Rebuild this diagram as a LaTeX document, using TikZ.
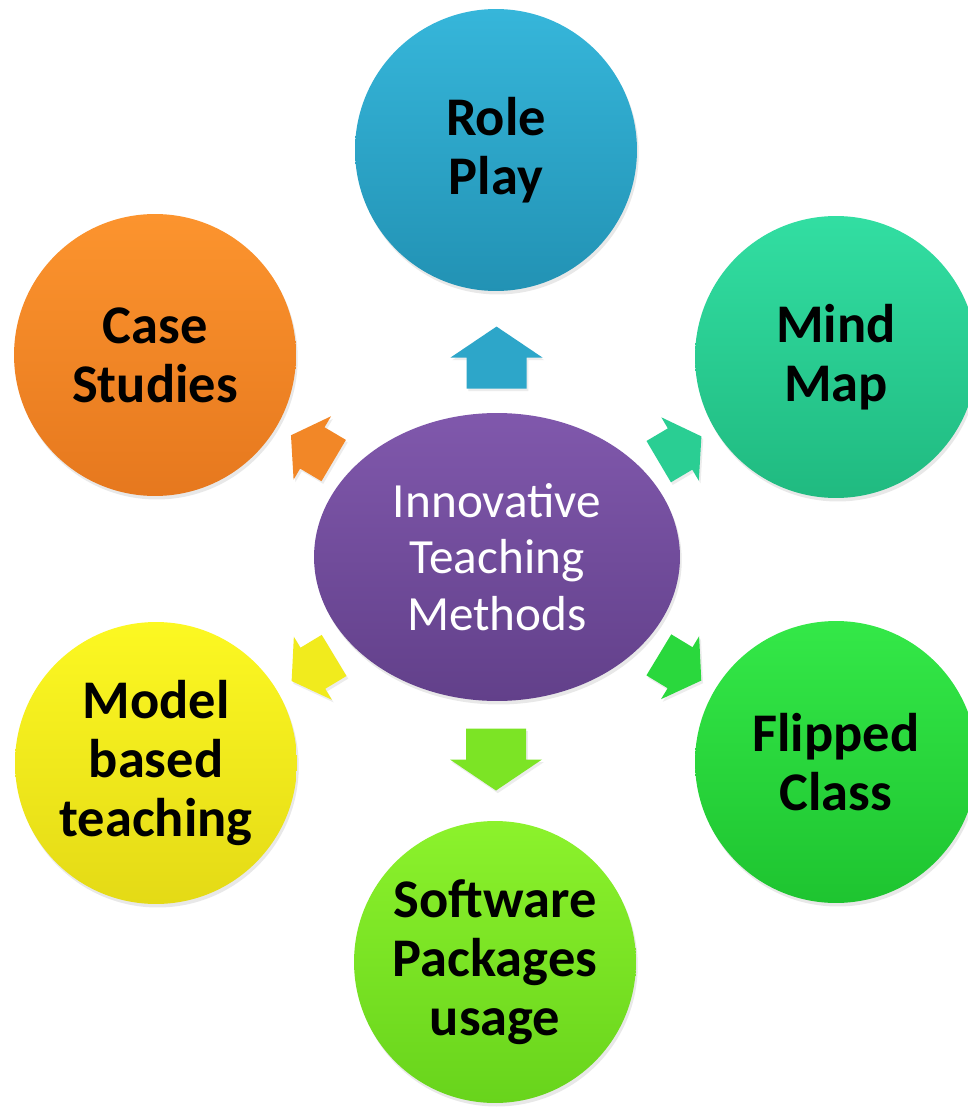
\documentclass[tikz,border=0pt]{standalone}
\usepackage{fontspec}
\setmainfont{Carlito}
\usetikzlibrary{positioning,calc,shapes.geometric,shadows}

\definecolor{roleTop}{RGB}{54,182,218}
\definecolor{roleBot}{RGB}{34,146,180}
\definecolor{mindTop}{RGB}{50,222,162}
\definecolor{mindBot}{RGB}{32,186,128}
\definecolor{flipTop}{RGB}{52,232,72}
\definecolor{flipBot}{RGB}{30,196,48}
\definecolor{softTop}{RGB}{140,242,44}
\definecolor{softBot}{RGB}{104,212,28}
\definecolor{modelTop}{RGB}{252,248,34}
\definecolor{modelBot}{RGB}{228,218,22}
\definecolor{caseTop}{RGB}{252,148,46}
\definecolor{caseBot}{RGB}{230,120,30}
\definecolor{hubTop}{RGB}{128,88,172}
\definecolor{hubBot}{RGB}{98,64,138}

\tikzset{
  bubble/.style={circle,minimum size=5.64cm,inner sep=0pt,align=center,
    font=\bfseries\fontsize{31}{33.5}\selectfont,text=black,
    drop shadow={opacity=0.18,shadow xshift=1pt,shadow yshift=-2pt}},
  hub/.style={ellipse,minimum width=7.32cm,minimum height=5.76cm,inner sep=0pt,
    align=center,font=\fontsize{28}{32}\selectfont,text=white,
    top color=hubTop,bottom color=hubBot,
    drop shadow={opacity=0.18,shadow xshift=1pt,shadow yshift=-2pt}},
  pics/blockarrow/.style={code={
    \fill[#1,drop shadow={opacity=0.15,shadow xshift=1pt,shadow yshift=-1.5pt}]
      (31,0) -- (0,46) -- (0,30) -- (-31,30) -- (-31,-30) -- (0,-30) -- (0,-46) -- cycle;
  }}
}

\begin{document}
\begin{tikzpicture}[x=0.02cm,y=-0.02cm]
 \path[use as bounding box,fill=white] (0,0) rectangle (967,1108);
 %
 \node[hub] (itm) at (497,557) {Innovative\\Teaching\\Methods};
 \node[bubble,top color=roleTop,bottom color=roleBot] (role) at (496,150) {Role\\Play};
 \node[bubble,top color=mindTop,bottom color=mindBot] (mind) at (836,357) {Mind\\Map};
 \node[bubble,top color=flipTop,bottom color=flipBot] (flip) at (836,762) {Flipped\\Class};
 \node[bubble,top color=softTop,bottom color=softBot] (soft) at (495,962) {Software\\Packages\\usage};
 \node[bubble,top color=modelTop,bottom color=modelBot] (model) at (156,763) {Model\\based\\teaching};
 \node[bubble,top color=caseTop,bottom color=caseBot] (cases) at (155,355) {Case\\Studies};
 %
 \pic[rotate=90] (toRole) at ($(itm)!0.49!(role)$) {blockarrow=roleTop!55!roleBot};
 \pic[rotate=-90] (toSoft) at ($(itm)!0.5!(soft)$) {blockarrow=softTop!55!softBot};
 \pic[rotate=30.6,scale=0.8] (toMind) at ($(itm)!0.54!(mind)$) {blockarrow=mindTop!55!mindBot};
 \pic[rotate=-31.2,scale=0.8] (toFlip) at ($(itm)!0.54!(flip)$) {blockarrow=flipTop!55!flipBot};
 \pic[rotate=-148.9,scale=0.8] (toModel) at ($(itm)!0.54!(model)$) {blockarrow=modelTop!55!modelBot};
 \pic[rotate=149.4,scale=0.8] (toCases) at ($(itm)!0.54!(cases)$) {blockarrow=caseTop!55!caseBot};
\end{tikzpicture}
\end{document}
